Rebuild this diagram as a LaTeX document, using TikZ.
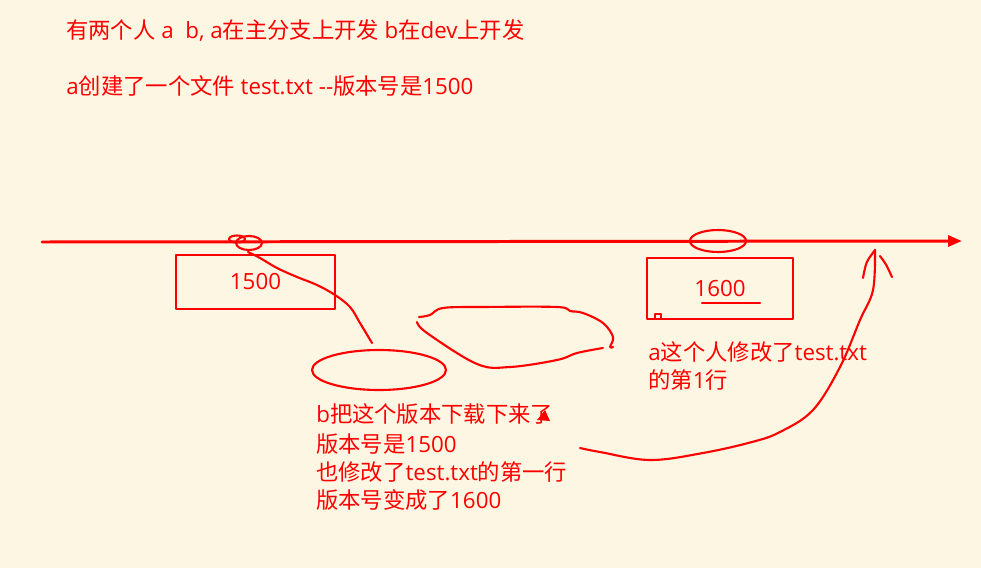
\documentclass[tikz,border=0pt]{standalone}
\usepackage{fontspec}
\usepackage{tikz}
\usetikzlibrary{arrows.meta}
\setmainfont{Noto Sans CJK SC}
\newfontfamily\lat{Open Sans}
\definecolor{paper}{HTML}{FDF6E3}
\definecolor{ink}{HTML}{FF0000}
\tikzset{
  txt/.style={anchor=base west, inner sep=0pt, text=ink, font=\fontsize{12.7}{14}\selectfont},
  pen/.style={draw=ink, line width=1.2pt, line cap=round, line join=round},
  verbox/.style={pen, rectangle, inner sep=0pt, text=ink, font=\fontsize{12.7}{14}\selectfont\lat}
}
\begin{document}
\begin{tikzpicture}[x=0.02cm, y=-0.02cm]
\fill[paper] (0,0) rectangle (981,568);
\useasboundingbox (0,0) rectangle (981,568);

\node[txt] (intro) at (66,38) {有两个人{\lat\ a\ \ b, a}在主分支上开发{\lat\ b}在{\lat dev}上开发};
\node[txt] (create) at (66,94) {{\lat a}创建了一个文件{\lat\ test.txt -{}-}版本号是{\lat 1500}};

\coordinate (start) at (42,242);
\coordinate (end) at (962,241);
\draw[pen, line width=1.7pt, -{Triangle[length=0.28cm, width=0.22cm]}] (start) -- (end);

\node[verbox, minimum width=3.18cm, minimum height=1.08cm] (v1500) at (255.5,282) {1500};
\node[verbox, minimum width=2.92cm, minimum height=1.22cm] (v1600) at (720,288.5) {1600};
\draw[pen] (702,303) -- (760,303);
\draw[pen, line width=0.8pt] (655,314) rectangle (661,319);

\draw[pen] (237,239) ellipse (8 and 3.5);
\draw[pen] (249,243) ellipse (13 and 7);
\draw[pen] (718,241) ellipse (28 and 11);
\draw[pen] (379,370) ellipse (67 and 20);

\draw[pen] plot[smooth, tension=0.6] coordinates {(248,252) (260,258) (277,268) (297,277) (317,285) (335,295) (350,307) (360,323) (372,343)};

\draw[pen] plot[smooth, tension=0.6] coordinates {(419,317) (430,315) (443,308) (483,307) (557,307) (570,311) (583,313) (603,323) (613,337) (610,347) (613,347)};
\draw[pen] plot[smooth, tension=0.6] coordinates {(603,348) (577,353) (557,360) (510,367) (477,364) (427,333) (417,322)};

\node[txt] (bline1) at (316,422) {{\lat b}把这个版本下载下来了};
\node[txt] (bline2) at (316,452) {版本号是{\lat 1500}};
\node[txt] (bline3) at (316,480) {也修改了{\lat test.txt}的第一行};
\node[txt] (bline4) at (316,508) {版本号变成了{\lat 1600}};
\fill[ink] (545,410) -- (537,420) -- (550,421) -- cycle;

\node[txt] (aline1) at (648,360) {{\lat a}这个人修改了{\lat test.txt}};
\node[txt] (aline2) at (648,388) {的第{\lat 1}行};

\coordinate (tip) at (875,250);
\draw[pen] plot[smooth, tension=0.6] coordinates {(580,448) (600,452) (650,460) (703,453) (752,442) (780,432) (813,410) (840,367) (860,320) (873,290) (tip)};
\draw[pen] (863,278) .. controls (866,262) .. (tip);
\draw[pen] (880,256) .. controls (886,264) .. (892,277);
\end{tikzpicture}
\end{document}
